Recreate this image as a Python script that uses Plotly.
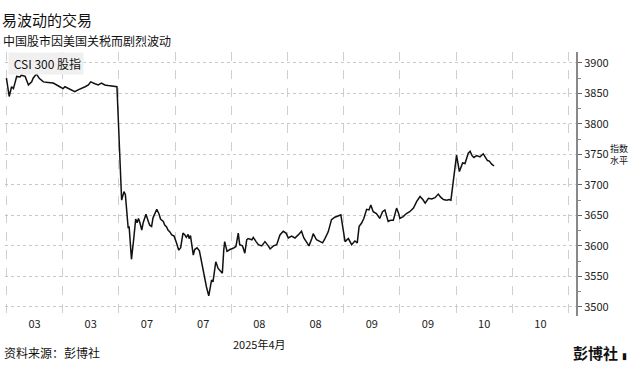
import plotly.graph_objects as go

# trading minutes since 3 Apr open (each half-day session = 120 min)
minutes = [
    0, 6, 11, 15, 22, 29, 32, 40, 47, 54, 57, 64, 70, 75, 79, 89, 100, 114,
    121, 125, 132, 139, 146, 153, 161, 168, 175, 180, 189, 196, 203, 210, 217, 232, 236,
    246, 251, 254, 258, 260, 262, 267, 272, 276, 279, 282, 285, 289, 292, 298, 303, 306,
    310, 313, 321, 326, 329, 335, 338, 342, 345, 349, 353, 358, 363, 368, 372, 377, 381,
    384, 388, 390, 393, 397, 399, 402, 407, 412, 417, 422, 427, 432, 434, 438, 441, 447,
    452, 457, 461, 464, 466, 471, 477,
    484, 490, 495, 498, 504, 509, 513, 516, 524, 527, 533, 538, 545, 552, 559, 563, 570,
    577, 584, 591, 597, 602, 609, 616, 623, 630, 635, 641, 646, 652, 655, 662, 669, 675,
    680, 687, 694, 701, 708, 714,
    723, 730, 737, 744, 749, 753, 758, 763, 769, 774, 778, 783, 790, 797, 803, 808, 815,
    820, 826, 833, 837, 840, 847, 854, 861, 869, 876, 883, 889, 894, 901, 908, 915, 922,
    927, 933, 940, 945, 949,
    961, 967, 974, 979, 986, 990, 994, 998, 1004, 1011, 1018, 1027, 1031, 1036, 1041,
]
csi300 = [
    3875, 3845, 3861, 3858, 3878, 3877, 3880, 3878, 3864, 3869, 3875, 3882, 3875, 3872, 3869, 3868, 3867, 3861,
    3858, 3861, 3858, 3856, 3853, 3856, 3858, 3861, 3864, 3869, 3866, 3864, 3867, 3864, 3863, 3862, 3861,
    3675, 3689, 3684, 3637, 3629, 3632, 3578, 3613, 3644, 3638, 3645, 3638, 3626, 3638, 3652, 3640, 3634,
    3632, 3646, 3660, 3652, 3644, 3640, 3634, 3631, 3626, 3623, 3618, 3616, 3605, 3593, 3597, 3621, 3618,
    3614, 3619, 3612, 3617, 3598, 3585, 3594, 3597, 3592, 3571, 3552, 3533, 3518, 3528, 3544, 3541, 3574,
    3563, 3558, 3555, 3593, 3607, 3591, 3594,
    3596, 3599, 3621, 3602, 3600, 3588, 3610, 3612, 3610, 3614, 3607, 3602, 3600, 3607, 3600, 3595, 3600,
    3602, 3618, 3624, 3621, 3613, 3616, 3613, 3618, 3624, 3613, 3605, 3600, 3612, 3620, 3610, 3607, 3605,
    3612, 3623, 3643, 3647, 3649, 3651,
    3607, 3612, 3602, 3608, 3605, 3632, 3637, 3645, 3660, 3659, 3667, 3656, 3653, 3645, 3656, 3659, 3640,
    3642, 3642, 3662, 3654, 3645, 3648, 3653, 3656, 3662, 3673, 3681, 3676, 3670, 3678, 3677, 3679, 3685,
    3680, 3676, 3675, 3676, 3675,
    3749, 3722, 3736, 3735, 3752, 3755, 3748, 3745, 3748, 3746, 3751, 3740, 3739, 3734, 3731,
]

session_bounds = [0, 120, 240, 360, 480, 600, 720, 840, 960, 1080, 1200]
tick_pos = [60, 180, 300, 420, 540, 660, 780, 900, 1020, 1140]
tick_text = ["03", "03", "07", "07", "08", "08", "09", "09", "10", "10"]
y_ticks = [3500, 3550, 3600, 3650, 3700, 3750, 3800, 3850, 3900]

FONT = "Noto Sans CJK SC"
Y0, Y1 = 3485, 3918

fig = go.Figure()
fig.add_trace(go.Scatter(x=minutes, y=csi300, mode="lines",
                         line=dict(color="#111111", width=1.5),
                         name="CSI 300 股指", showlegend=False))

fig.update_layout(
    width=638, height=374,
    margin=dict(l=5, r=62, t=52, b=58),
    paper_bgcolor="white", plot_bgcolor="white",
    font=dict(family=FONT, size=11, color="#222222"),
    xaxis=dict(
        range=[-3, 1216], tickmode="array", tickvals=tick_pos, ticktext=tick_text,
        showgrid=False, zeroline=False, showline=False, ticks="",
        tickfont=dict(size=11, color="#222222"),
        minor=dict(tickmode="array", tickvals=session_bounds, showgrid=True,
                   griddash="dash", gridcolor="#cfcfcf", gridwidth=1, ticks=""),
    ),
    yaxis=dict(
        range=[Y0, Y1], side="right", tickmode="array", tickvals=y_ticks,
        showgrid=True, griddash="dot", gridcolor="#c8c8c8", gridwidth=1,
        zeroline=False, showline=True, linecolor="#888888", linewidth=2,
        ticks="outside", ticklen=4, tickcolor="#666666",
        minor=dict(tickmode="linear", tick0=3525, dtick=50, ticks="outside",
                   ticklen=3, tickcolor="#888888", showgrid=False),
        tickfont=dict(size=11, color="#222222"),
        automargin=False,
    ),
)

# titles
fig.add_annotation(xref="paper", yref="paper", x=0, xshift=-5, y=1, yshift=20,
                   xanchor="left", yanchor="bottom", showarrow=False,
                   text="易波动的交易", font=dict(size=15, color="#111111", family=FONT))
fig.add_annotation(xref="paper", yref="paper", x=0, xshift=-4, y=1, yshift=1,
                   xanchor="left", yanchor="bottom", showarrow=False,
                   text="中国股市因美国关税而剧烈波动", font=dict(size=12, color="#111111", family=FONT))
# legend box
fig.add_annotation(xref="paper", yref="paper", x=0, xshift=3, y=1, yshift=0,
                   xanchor="left", yanchor="top", showarrow=False,
                   text="&nbsp;CSI 300 股指", bgcolor="#f0f0f0", borderpad=2,
                   font=dict(size=12, color="#111111", family=FONT))
fig.add_shape(type="line", xref="paper", yref="paper", x0=0.0125, x1=0.0125,
              y0=0.955, y1=0.925, line=dict(color="#111111", width=2))
# axis unit label
fig.add_annotation(xref="paper", yref="paper", x=1, xshift=32, y=(3750 - Y0) / (Y1 - Y0),
                   xanchor="left", yanchor="middle", showarrow=False, align="left",
                   text="指数<br>水平", font=dict(size=9, color="#111111", family=FONT))
# x-axis month label
fig.add_annotation(xref="paper", yref="paper", x=(540 + 3) / 1219, y=0, yshift=-18,
                   xanchor="center", yanchor="top", showarrow=False,
                   text="2025年4月", font=dict(size=11, color="#111111", family=FONT))
# footer
fig.add_annotation(xref="paper", yref="paper", x=0, xshift=-3, y=0, yshift=-26,
                   xanchor="left", yanchor="top", showarrow=False,
                   text="资料来源：彭博社", font=dict(size=12, color="#111111", family=FONT))
fig.add_annotation(xref="paper", yref="paper", x=1, xshift=44, y=0, yshift=-24,
                   xanchor="right", yanchor="top", showarrow=False,
                   text="<b>彭博社</b>", font=dict(size=15, color="#111111", family=FONT))
fig.add_annotation(xref="paper", yref="paper", x=1, xshift=44, y=0, yshift=-31,
                   xanchor="left", yanchor="top", showarrow=False,
                   text="▮", font=dict(size=9, color="#111111", family=FONT))

fig.write_html("out.html", config={"displayModeBar": False},
               post_script="document.body.style.margin='0';")
